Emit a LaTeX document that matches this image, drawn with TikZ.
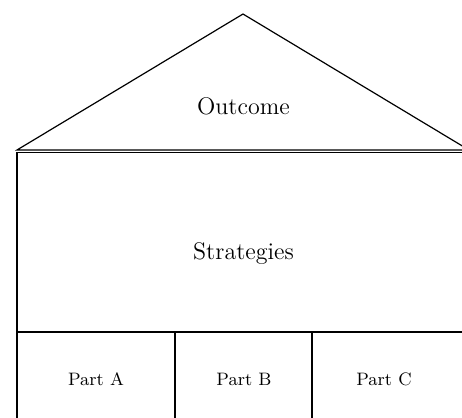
\documentclass[tikz,border=0pt]{standalone}
\begin{document}
\begin{tikzpicture}[x=0.5pt,y=-0.5pt,line width=0.6pt]

\clip (0,0) rectangle (462,418);

\coordinate (tetto) at (243,14);
\coordinate (sx) at (17,150);
\coordinate (dx) at (469,150);

% roof
\draw (sx) -- (tetto) -- (dx) -- cycle;
\node[font=\large] (outcome) at (243.5,106) {Outcome};

% body
\draw (17,152.5) rectangle (469,332);
\node[font=\large] (strategies) at (243.5,254) {Strategies};

% parts
\draw (17,332) rectangle (175,440);
\draw (175,332) rectangle (312,440);
\draw (312,332) rectangle (469,440);
\node[font=\small] (partA) at (96,379) {Part A};
\node[font=\small] (partB) at (244,379) {Part B};
\node[font=\small] (partC) at (384,379) {Part C};

\end{tikzpicture}
\end{document}
